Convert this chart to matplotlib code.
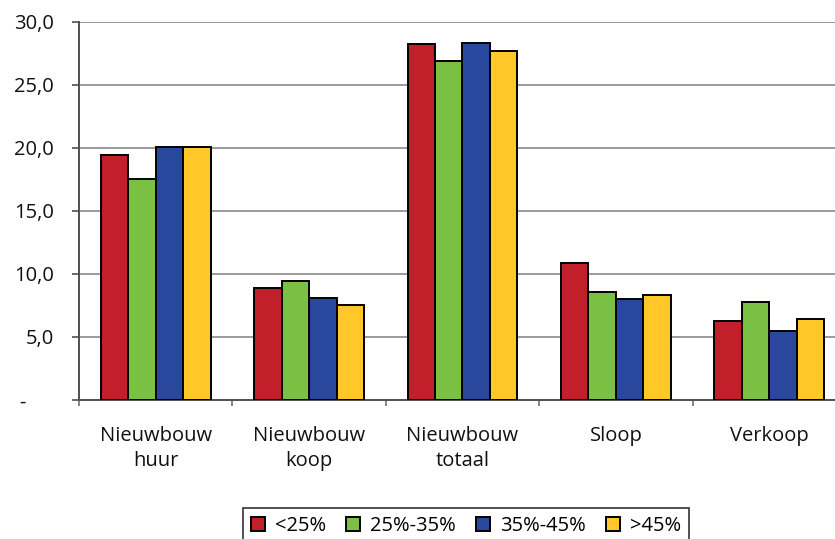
import matplotlib
matplotlib.use("Agg")
import matplotlib.pyplot as plt
import numpy as np
from matplotlib.ticker import FixedLocator

categories = ["Nieuwbouw\nhuur", "Nieuwbouw\nkoop", "Nieuwbouw\ntotaal", "Sloop", "Verkoop"]
series_names = ["<25%", "25%-35%", "35%-45%", ">45%"]
s_lt25 = [19.4, 8.9, 28.2, 10.9, 6.3]
s_25_35 = [17.5, 9.4, 26.9, 8.6, 7.8]
s_35_45 = [20.1, 8.1, 28.3, 8.0, 5.5]
s_gt45 = [20.1, 7.5, 27.7, 8.3, 6.4]
y_ticks = [0, 5, 10, 15, 20, 25, 30]
y_labels = ["-", "5,0", "10,0", "15,0", "20,0", "25,0", "30,0"]

colors = ["#C1202A", "#7AC143", "#2A479E", "#FFC828"]
series = [s_lt25, s_25_35, s_35_45, s_gt45]

plt.rcParams["font.family"] = ["Open Sans", "DejaVu Sans"]
FS = 14.5

fig = plt.figure(figsize=(8.35, 5.39), dpi=100)
ax = fig.add_axes([79 / 835, 1 - 400 / 539, 767 / 835, 378.3 / 539])

x = np.arange(len(categories))
bw = 0.179
for i, (vals, c, name) in enumerate(zip(series, colors, series_names)):
    ax.bar(x + (i - 1.5) * bw, vals, width=bw, color=c, edgecolor="black",
           linewidth=1.4, label=name, zorder=3)

ax.set_xlim(-0.5, len(categories) - 0.5)
ax.set_ylim(0, 30)
ax.set_yticks(y_ticks)
# zero is shown as a dash, set further left in accounting style
ax.set_yticklabels([""] + y_labels[1:], fontsize=FS, color="#111111")
ax.annotate(y_labels[0], xy=(0, 0), xycoords=("axes fraction", "data"),
            xytext=(-53, -3), textcoords="offset pixels", ha="right", va="center",
            fontsize=FS, color="#111111", annotation_clip=False)
ax.yaxis.grid(True, color="#8a8a8a", linewidth=1.2, zorder=0)

ax.set_xticks(x)
ax.set_xticklabels(categories, fontsize=FS, color="#111111", linespacing=1.3)
ax.tick_params(axis="x", length=0, pad=19)
ax.xaxis.set_minor_locator(FixedLocator(np.arange(-0.5, len(categories), 1.0)))
ax.tick_params(axis="x", which="minor", length=4.5, width=1.2, color="#707070", direction="out")
ax.tick_params(axis="y", length=5, width=1.2, color="#505050", direction="out", pad=13)

for side in ["top", "right"]:
    ax.spines[side].set_visible(False)
ax.spines["left"].set_color("#505050")
ax.spines["left"].set_linewidth(1.4)
ax.spines["bottom"].set_color("#505050")
ax.spines["bottom"].set_linewidth(1.4)

leg = fig.legend(loc="center", bbox_to_anchor=(466 / 835, 1 - 526 / 539), ncol=4,
                 fontsize=FS, frameon=True, fancybox=False, edgecolor="black",
                 handlelength=0.7, handleheight=0.7, handletextpad=0.5,
                 columnspacing=1.0, borderpad=0.4)
leg.get_frame().set_linewidth(1.2)

fig.savefig("out.png", dpi=100, facecolor="white")
